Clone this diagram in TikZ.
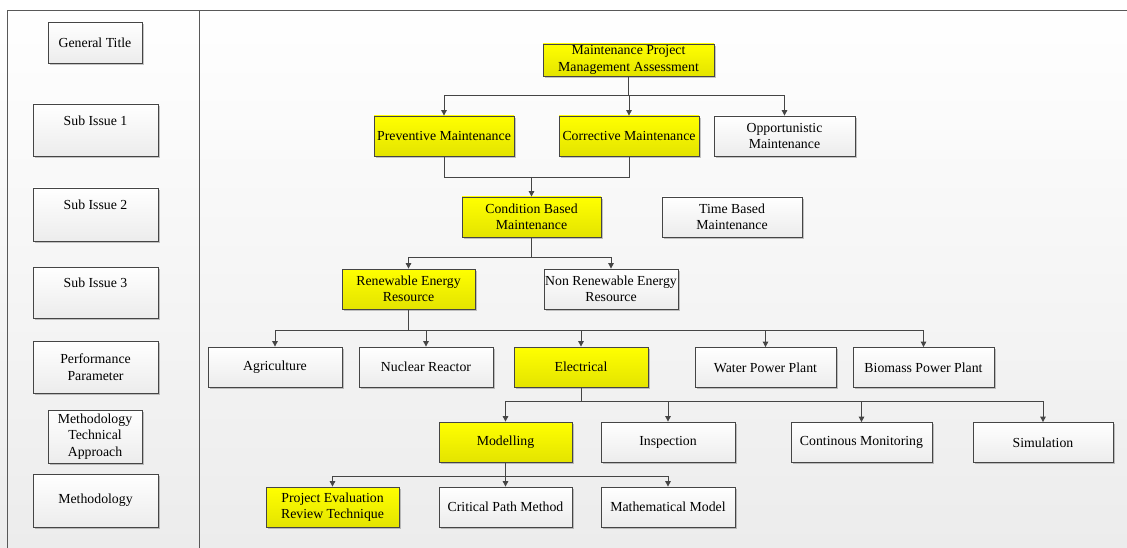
\documentclass[tikz,border=0pt]{standalone}
\usepackage{fontspec}
\setmainfont{Liberation Serif}
\usetikzlibrary{shadows,arrows.meta,calc}
\definecolor{lc}{HTML}{454545}
\definecolor{ybot}{RGB}{228,228,0}
\definecolor{gbot}{RGB}{236,236,236}
\tikzset{
  base/.style={draw=lc, line width=0.8pt, align=center, inner sep=0.5pt,
    font=\fontsize{13.8}{16.5}\selectfont,
    drop shadow={shadow xshift=1.6pt, shadow yshift=-1.6pt, opacity=0.22, fill=black}},
  wbox/.style={base, top color=white, bottom color=gbot, minimum width=#1, minimum height=40pt},
  wbox/.default=134pt,
  ybox/.style={base, top color=yellow, bottom color=ybot, minimum width=#1, minimum height=40pt},
  ybox/.default=134pt,
  lbox/.style={base, top color=white, bottom color=gbot, minimum width=#1},
  upper/.style={text height=9.5pt, text depth=19pt},
  ln/.style={draw=lc, line width=0.9pt},
  arr/.style={ln, -{Triangle[length=5.5pt,width=5.5pt]}},
}
\begin{document}
\begin{tikzpicture}[x=1pt,y=-1pt]
\useasboundingbox (0,0) rectangle (1127,548);
\shade[top color=white, bottom color=gbot] (0,0) rectangle (1127,548);
% frame
\draw[draw=lc!90, line width=1pt] (7,548) -- (7,10.5) -- (1127,10.5);
\draw[draw=lc!90, line width=1pt] (199.5,10.5) -- (199.5,548);

% left column
\node[lbox=94pt, minimum height=41pt] (gt) at (95,42.5) {General Title};
\node[lbox=125pt, minimum height=52pt, upper] (s1) at (95.5,130) {Sub Issue 1};
\node[lbox=125pt, minimum height=53pt, upper] (s2) at (95.5,214.5) {Sub Issue 2};
\node[lbox=125pt, minimum height=51pt, upper] (s3) at (95.5,292.5) {Sub Issue 3};
\node[lbox=125pt, minimum height=52pt] (perf) at (95.5,367) {Performance\\Parameter};
\node[lbox=94pt, minimum height=53pt] (mta) at (95,436.5) {Methodology\\Technical\\Approach};
\node[lbox=125pt, minimum height=53pt] (meth) at (95.5,500.5) {Methodology};

% tree
\node[ybox=171pt, minimum height=32pt] (mpma) at (628.5,60) {Maintenance Project\\Management Assessment};
\node[ybox=140pt] (prev) at (444,136) {Preventive Maintenance};
\node[ybox=140pt] (corr) at (629,136) {Corrective Maintenance};
\node[wbox=141pt] (opp) at (784.5,136) {Opportunistic\\Maintenance};
\node[ybox=139pt] (cond) at (531.5,217) {Condition Based\\Maintenance};
\node[wbox=140pt] (time) at (732,217) {Time Based\\Maintenance};
\node[ybox=133pt] (ren) at (408.5,289) {Renewable Energy\\Resource};
\node[wbox=134pt] (nonren) at (611,289) {Non Renewable Energy\\Resource};
\node[wbox=134pt] (agri) at (275,367) {Agriculture};
\node[wbox=134pt] (nuc) at (426,367) {Nuclear Reactor};
\node[ybox=134pt] (elec) at (581,367) {Electrical};
\node[wbox=141pt] (water) at (765.5,367.5) {Water Power Plant};
\node[wbox=141pt] (bio) at (923.5,367.5) {Biomass Power Plant};
\node[ybox=133pt] (model) at (505.5,442) {Modelling};
\node[wbox=134pt] (insp) at (668,442) {Inspection};
\node[wbox=141pt] (cont) at (861.5,442.5) {Continous Monitoring};
\node[wbox=140pt] (sim) at (1043,442.5) {Simulation};
\node[ybox=133pt] (pert) at (332.5,507) {Project Evaluation\\Review Technique};
\node[wbox=133pt] (cpm) at (505.5,507) {Critical Path Method};
\node[wbox=134pt] (math) at (668,507) {Mathematical Model};

% bus levels
\coordinate (b1) at (0,95.3);
\coordinate (b2) at (0,177);
\coordinate (b3) at (0,257.3);
\coordinate (b4) at (0,330.7);
\coordinate (b5) at (0,401.3);
\coordinate (b6) at (0,476);

\foreach \c in {prev,corr,opp}
  \draw[arr] (mpma.south) |- (b1 -| \c.north) -- (\c.north);
\draw[ln] (prev.south) |- (b2 -| corr.south) -- (corr.south);
\draw[arr] (b2 -| cond.north) -- (cond.north);
\foreach \c in {ren,nonren}
  \draw[arr] (cond.south) |- (b3 -| \c.north) -- (\c.north);
\foreach \c in {agri,nuc,elec,water,bio}
  \draw[arr] (ren.south) |- (b4 -| \c.north) -- (\c.north);
\foreach \c in {model,insp,cont,sim}
  \draw[arr] (elec.south) |- (b5 -| \c.north) -- (\c.north);
\foreach \c in {pert,cpm,math}
  \draw[arr] (model.south) |- (b6 -| \c.north) -- (\c.north);
\end{tikzpicture}
\end{document}
